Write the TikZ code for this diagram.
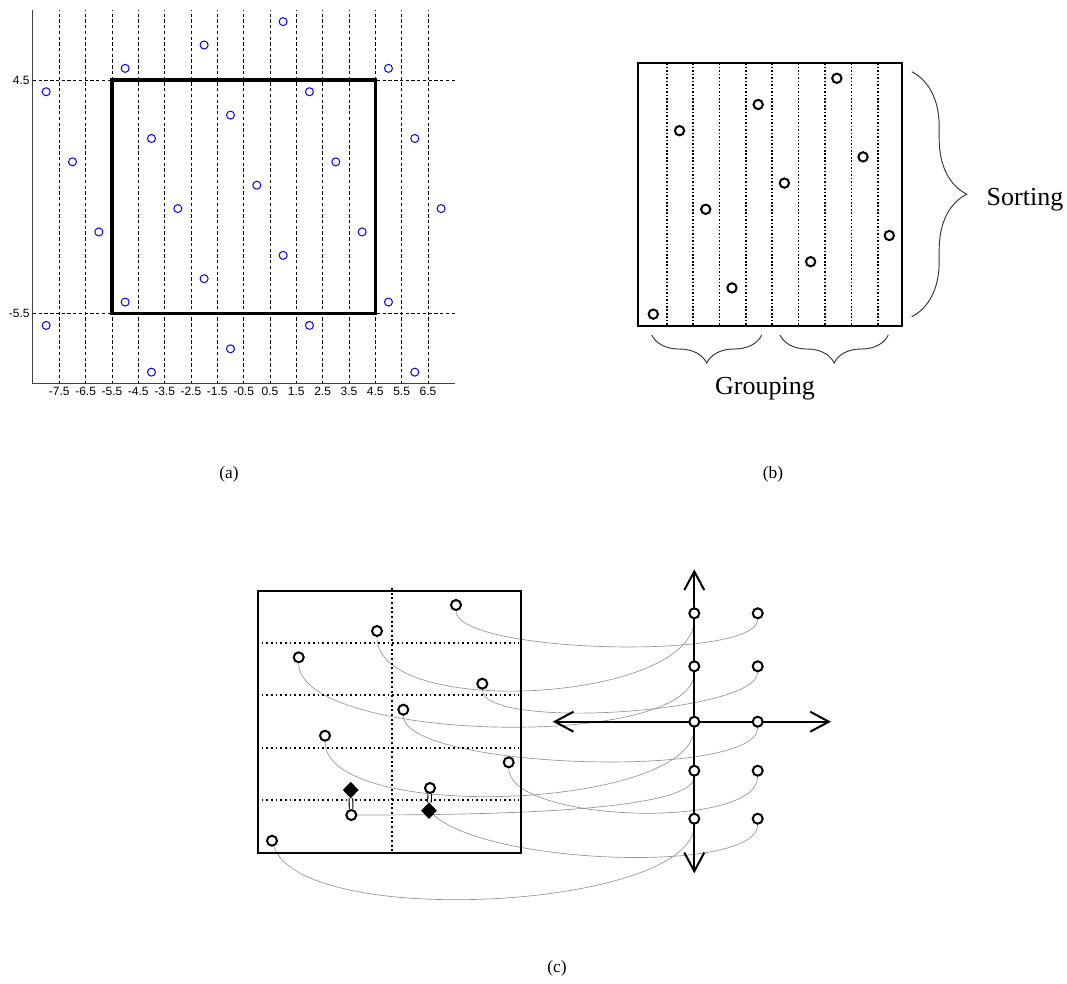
\documentclass[tikz,border=0pt]{standalone}
\usepackage{fontspec}
\setmainfont{Liberation Serif}
\newfontfamily\axfont{Liberation Sans}
\usetikzlibrary{decorations.pathreplacing,arrows.meta,backgrounds,shapes.geometric}
\begin{document}
\begin{tikzpicture}[x=0.75pt,y=-0.75pt,
  bluedot/.style={circle,draw=blue,line width=0.75pt,inner sep=0pt,minimum size=6pt},
  bdot/.style={circle,draw=black,fill=white,line width=1.5pt,inner sep=0pt,minimum size=7pt},
  cdot/.style={circle,draw=black,fill=white,line width=1.5pt,inner sep=0pt,minimum size=7.5pt},
  ddia/.style={diamond,fill=black,inner sep=0pt,minimum width=12pt,minimum height=12.5pt},
  dashgrid/.style={line width=0.6pt,dash pattern=on 2.5pt off 1.8pt},
  axiscol/.style={draw=black!75,line width=0.75pt},
  ticklab/.style={font=\axfont\fontsize{9}{10}\selectfont,inner sep=0pt},
  dotb/.style={line width=1.2pt,dash pattern=on 1.2pt off 1.4pt},
  dotc/.style={line width=1.4pt,dash pattern=on 1.4pt off 2.1pt},
  link/.style={draw=black!42,line width=0.5pt},
  linkpair/.style={double,double distance=1.9pt,line width=0.8pt},
  bracestyle/.style={decorate,draw=black!80,line width=0.7pt},
  axisline/.style={line width=1.5pt,{Straight Barb[length=14pt,width=15pt]}-{Straight Barb[length=14pt,width=15pt]}},
  captext/.style={font=\fontsize{13}{15}\selectfont},
  bigtext/.style={font=\fontsize{19.5}{22}\selectfont}
]
\useasboundingbox (0,0) rectangle (1067,983);

% ---------------- panel (a) ----------------
\begin{scope}[shift={(256.8,185.2)},x=19.7475pt,y=17.5275pt]
  \foreach \v in {-7.5,-6.5,-5.5,-4.5,-3.5,-2.5,-1.5,-0.5,0.5,1.5,2.5,3.5,4.5,5.5,6.5}{
    \draw[dashgrid] (\v,-8.5) -- (\v,7.5);
    \node[ticklab] at (\v,-8.84) {\v};
  }
  \draw[dashgrid] (-8.5,4.5) -- (7.52,4.5);
  \draw[dashgrid] (-8.5,-5.5) -- (7.52,-5.5);
  \draw[axiscol] (-8.5,7.5) -- (-8.5,-8.5) -- (7.52,-8.5);
  \node[ticklab,anchor=east] at (-8.62,4.5) {4.5};
  \node[ticklab,anchor=east] at (-8.62,-5.5) {-5.5};
  \draw[line width=2.5pt] (-5.5,-5.5) rectangle (4.5,4.5);
  \foreach \px/\py [count=\i] in {-8/4,-7/1,-6/-2,-5/5,-5/-5,-8/-6,-4/2,-4/-8,-3/-1,-2/6,-2/-4,-1/3,-1/-7,0/0,1/7,1/-3,2/4,2/-6,3/1,4/-2,5/5,5/-5,6/2,6/-8,7/-1}
    \node[bluedot] (a\i) at (\px,\py) {};
\end{scope}
\node[captext] (capa) at (229,474) {(a)};

% ---------------- panel (b) ----------------
\draw[line width=1.5pt] (638.3,63.3) rectangle (901.7,326);
\foreach \k in {0,...,8}
  \draw[dotb] ({666.7+26.375*\k},63.3) -- ({666.7+26.375*\k},326);
\foreach \m [count=\k from 0] in {9,2,5,8,1,4,7,0,3,6}
  \node[bdot] (b\k) at ({653.3+26.22*\k},{78.3+26.2*\m}) {};
\draw[bracestyle,decoration={brace,amplitude=41.25pt}] (911.7,71.7) -- (911.7,316.7);
\draw[bracestyle,decoration={brace,amplitude=21pt}] (761.7,335) -- (651.7,335);
\draw[bracestyle,decoration={brace,amplitude=21pt}] (888.3,335) -- (780,335);
\node[bigtext] (sorting) at (1025,199.3) {Sorting};
\node[bigtext] (grouping) at (765,388.3) {Grouping};
\node[captext] (capb) at (773,474) {(b)};

% ---------------- panel (c) ----------------
\draw[dotc] (391.7,588) -- (391.7,852.7);
\foreach \yy in {642.7,695.3,747.7,800}
  \draw[dotc] (261.5,\yy) -- (518.5,\yy);
\draw[line width=1.6pt] (258.3,590.7) rectangle (521,852.7);

% axes
\coordinate (ytop) at (694.3,569.3);
\coordinate (ybot) at (694.3,873.3);
\coordinate (xl) at (552.7,721.7);
\coordinate (xr) at (831,721.7);
\draw[axisline] (ybot) -- (ytop);
\draw[axisline] (xl) -- (xr);

% source points
\node[cdot] (P0) at (272,840.7) {};
\node[cdot] (P1) at (298.7,657.3) {};
\node[cdot] (P2) at (325,735.7) {};
\node[cdot] (P3) at (351.3,815) {};
\node[cdot] (P4) at (377,631) {};
\node[cdot] (P5) at (403.3,709.7) {};
\node[cdot] (P6) at (430,788) {};
\node[cdot] (P7) at (456,605) {};
\node[cdot] (P8) at (482.3,683.7) {};
\node[cdot] (P9) at (508.7,762.3) {};
\node[ddia] (D1) at (350.7,790) {};
\node[ddia] (D2) at (429,810.7) {};
\draw[linkpair] (D1) -- (P3);
\draw[linkpair] (P6) -- (D2);

% target points
\foreach \yy [count=\i] in {613.3,666.3,721.7,770.7,818.7}{
  \node[cdot] (A\i) at (694.3,\yy) {};
  \node[cdot] (B\i) at (757.7,\yy) {};
}

\begin{scope}[on background layer]
  \draw[link] (P4) .. controls +(0,89) and +(0,89) .. (A1);
  \draw[link] (P1) .. controls +(0,85) and +(0,85) .. (A2);
  \draw[link] (P2) .. controls +(0,88) and +(0,88) .. (A3);
  \draw[link] (P3) .. controls +(150,0) and +(0,40) .. (A4);
  \draw[link] (P0) .. controls +(30,90) and +(0,90) .. (A5);
  \draw[link] (P7) .. controls +(0,48) and +(0,48) .. (B1);
  \draw[link] (P8) .. controls +(0,47) and +(0,47) .. (B2);
  \draw[link] (P5) .. controls +(0,59) and +(0,59) .. (B3);
  \draw[link] (P9) .. controls +(0,60) and +(0,60) .. (B4);
  \draw[link] (D2) .. controls +(60,55) and +(0,55) .. (B5);
\end{scope}

\node[captext] (capc) at (557,968) {(c)};
\end{tikzpicture}
\end{document}
